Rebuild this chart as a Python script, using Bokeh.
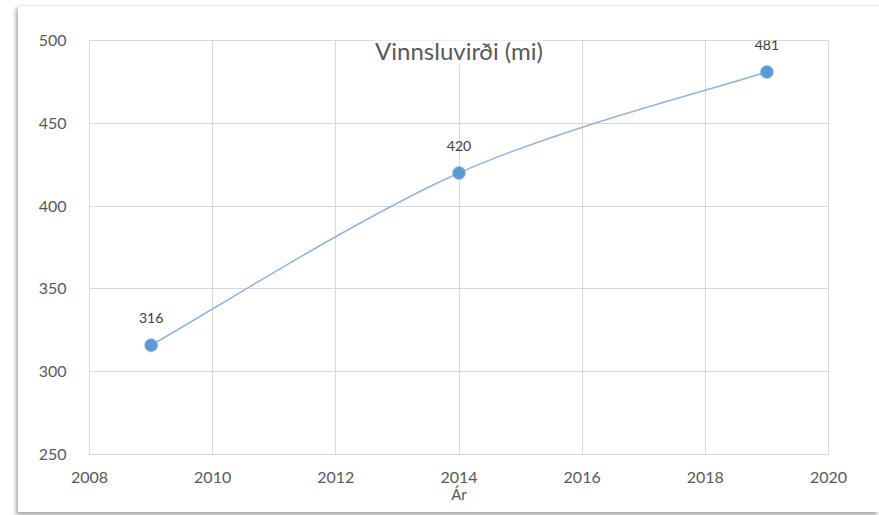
from bokeh.plotting import figure
from bokeh.models import ColumnDataSource, Label, LabelSet, FixedTicker, Range1d
from bokeh.core.properties import value
from bokeh.embed import file_html
from bokeh.resources import INLINE

years = [2009, 2014, 2019]
values = [316, 420, 481]
labels = ["316", "420", "481"]
x_ticks = [2008, 2010, 2012, 2014, 2016, 2018, 2020]
y_ticks = [250, 300, 350, 400, 450, 500]
title_text = "Vinnsluvirði (mi)"
x_label = "Ár"

FONT = "Lato"
GRAY = "#595959"

p = figure(width=861, height=507, output_backend="svg", toolbar_location=None,
           x_range=Range1d(2008, 2020), y_range=Range1d(250, 500),
           min_border_left=71, min_border_right=51, min_border_top=34, min_border_bottom=59)
p.margin = (5, 0, 0, 18)
p.styles = {"box-shadow": "-2px 3px 4px rgba(0,0,0,0.35)", "border-top": "1px solid #e6e6e6"}

p.outline_line_color = "#d9d9d9"
p.background_fill_color = "white"
p.border_fill_color = "white"

for ax in (p.xaxis, p.yaxis):
    ax.axis_line_color = None
    ax.major_tick_line_color = None
    ax.minor_tick_line_color = None
    ax.major_label_text_color = GRAY
    ax.major_label_text_font = FONT
    ax.major_label_text_font_size = "16px"

p.xaxis.ticker = FixedTicker(ticks=x_ticks)
p.yaxis.ticker = FixedTicker(ticks=y_ticks)
p.xaxis.major_label_standoff = 11
p.yaxis.major_label_standoff = 17
p.xaxis.axis_label = x_label
p.xaxis.axis_label_text_font = FONT
p.xaxis.axis_label_text_font_style = "normal"
p.xaxis.axis_label_text_font_size = "15px"
p.xaxis.axis_label_text_color = GRAY
p.xaxis.axis_label_standoff = -1

p.xgrid.grid_line_color = "#d9d9d9"
p.ygrid.grid_line_color = "#d9d9d9"
p.xgrid.ticker = FixedTicker(ticks=x_ticks)
p.ygrid.ticker = FixedTicker(ticks=y_ticks)

# smoothed line (Catmull-Rom style Bezier segments from data points)
n = len(years)
x0s, y0s, x1s, y1s, cx0, cy0, cx1, cy1 = [], [], [], [], [], [], [], []
for i in range(n - 1):
    pm = (years[max(i - 1, 0)], values[max(i - 1, 0)])
    pa = (years[i], values[i])
    pb = (years[i + 1], values[i + 1])
    pn = (years[min(i + 2, n - 1)], values[min(i + 2, n - 1)])
    x0s.append(pa[0]); y0s.append(pa[1]); x1s.append(pb[0]); y1s.append(pb[1])
    cx0.append(pa[0] + (pb[0] - pm[0]) / 6); cy0.append(pa[1] + (pb[1] - pm[1]) / 6)
    cx1.append(pb[0] - (pn[0] - pa[0]) / 6); cy1.append(pb[1] - (pn[1] - pa[1]) / 6)

p.bezier(x0=x0s, y0=y0s, x1=x1s, y1=y1s, cx0=cx0, cy0=cy0, cx1=cx1, cy1=cy1,
         line_color="#8fb6e0", line_width=1.5)

src = ColumnDataSource(dict(x=years, y=values, t=labels))
# soft marker halo
p.scatter("x", "y", source=src, size=15, fill_color="#9a9a9a", fill_alpha=0.2,
          line_color=None)
p.scatter("x", "y", source=src, size=12, fill_color="#5b9bd5", line_color="#5b9bd5")

p.add_layout(LabelSet(x="x", y="y", text="t", source=src, y_offset=27,
                      text_align="center", text_baseline="middle",
                      text_font=value(FONT), text_font_size=value("14px"),
                      text_color="#404040"))

p.add_layout(Label(x=2014, y=500, y_offset=-10, text=title_text, text_align="center",
                   text_baseline="middle", text_font=FONT, text_font_size="24px",
                   text_color=GRAY, background_fill_color="white",
                   border_line_color=None))

open("out.html", "w").write(file_html(p, INLINE))
